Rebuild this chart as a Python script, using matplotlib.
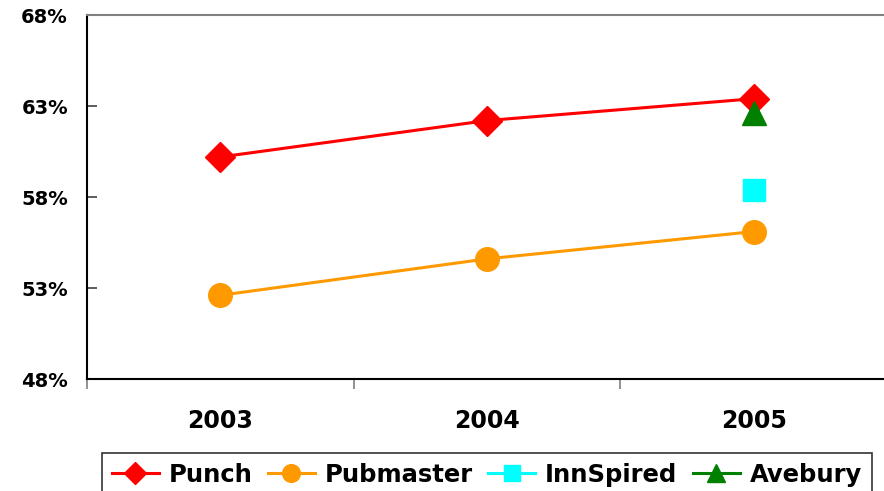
import matplotlib
matplotlib.use("Agg")
import matplotlib.pyplot as plt

plt.rcParams['font.family'] = ['DejaVu Sans']
plt.rcParams['font.weight'] = 'bold'

# Data
years = ['2003', '2004', '2005']
punch = [60.2, 62.2, 63.4]
pubmaster = [52.6, 54.6, 56.1]
innspired_year = [2]
innspired = [58.4]
avebury_year = [2]
avebury = [62.6]
y_ticks = [48, 53, 58, 63, 68]

fig = plt.figure(figsize=(8.84, 4.91), dpi=100)
ax = fig.add_axes([87 / 884, 1 - 379 / 491, 800 / 884, 364 / 491])

x = range(len(years))
ax.plot(x, punch, color='#FF0000', lw=2.2, marker='D', ms=15, label='Punch')
ax.plot(x, pubmaster, color='#FF9900', lw=2.2, marker='o', ms=17, label='Pubmaster')
ax.plot(innspired_year, innspired, color='#00FFFF', lw=2.2, marker='s', ms=16, label='InnSpired')
ax.plot(avebury_year, avebury, color='#008000', lw=2.2, marker='^', ms=17, label='Avebury')

ax.set_xlim(-0.5, 2.5)
ax.set_ylim(48, 68)
ax.set_yticks(y_ticks)
ax.set_yticklabels([f"{v}%" for v in y_ticks], fontsize=14, fontweight='bold')
ax.set_xticks(list(x))
ax.set_xticklabels(years, fontsize=17, fontweight='bold')
ax.tick_params(axis='x', which='major', length=0, pad=21.5)
ax.set_xticks([-0.5, 0.5, 1.5], minor=True)
ax.tick_params(axis='x', which='minor', length=7, color='#808080', width=1.2)
ax.tick_params(axis='y', direction='in', length=7, color='#404040', width=1.2, pad=13.7)

ax.spines['top'].set_color('#808080')
ax.spines['top'].set_linewidth(1.5)
ax.spines['left'].set_linewidth(1.5)
ax.spines['bottom'].set_linewidth(1.5)
ax.spines['right'].set_visible(False)

leg = fig.legend(loc='upper left', bbox_to_anchor=(102 / 884, 1 - 453 / 491),
                 borderaxespad=0, ncol=4, frameon=True, fancybox=False,
                 edgecolor='black', handlelength=1.95, handletextpad=0.4,
                 columnspacing=0.62, borderpad=0.4, markerscale=0.75,
                 prop={'weight': 'bold', 'size': 17.5})
leg.get_frame().set_linewidth(1.2)

fig.savefig('out.png', dpi=100)
